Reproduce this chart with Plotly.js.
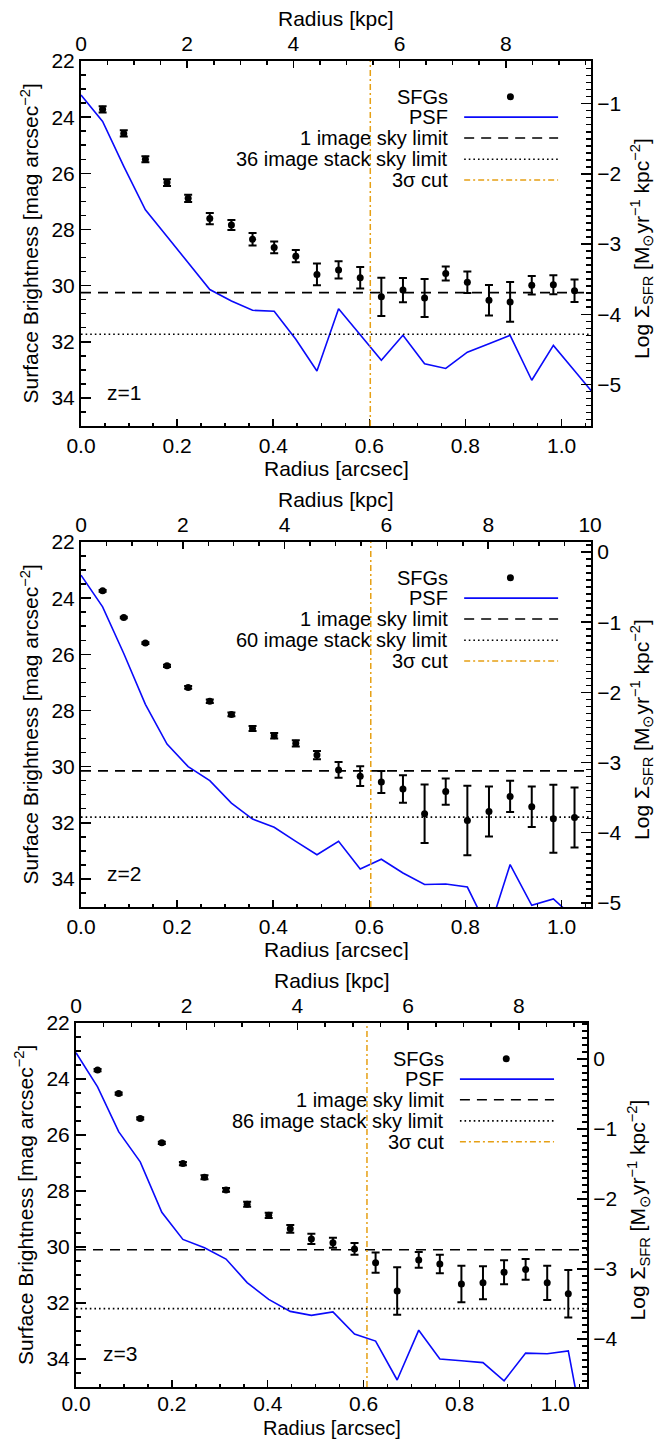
<!DOCTYPE html>
<html>
<head>
<meta charset="utf-8">
<script src="https://cdn.plot.ly/plotly-3.0.1.min.js"></script>
<style>
  body { margin: 0; background: #fff; }
  .panel { width: 671px; }
</style>
</head>
<body>
<div id="p1" class="panel" style="height:480px"></div>
<div id="p2" class="panel" style="height:480px"></div>
<div id="p3" class="panel" style="height:479px"></div>
<script>
// ---------- data ----------
const radius = [0.045, 0.089, 0.134, 0.179, 0.223, 0.268, 0.313, 0.357, 0.402, 0.447, 0.491, 0.536,
                0.581, 0.625, 0.670, 0.715, 0.759, 0.804, 0.849, 0.893, 0.938, 0.983, 1.027];
const psfRadius = [0, 0.045, 0.089, 0.134, 0.179, 0.223, 0.268, 0.313, 0.357, 0.402, 0.447, 0.491, 0.536,
                   0.581, 0.625, 0.670, 0.715, 0.759, 0.804, 0.849, 0.893, 0.938, 0.983, 1.027, 1.072];

// z = 1
const sfgZ1 = [23.72, 24.58, 25.50, 26.33, 26.89, 27.61, 27.84, 28.35, 28.64, 28.95, 29.60, 29.44,
               29.72, 30.40, 30.16, 30.44, 29.57, 29.88, 30.52, 30.58, 29.99, 29.97, 30.18];
const sfgErrZ1 = [0.11, 0.11, 0.11, 0.12, 0.13, 0.20, 0.18, 0.22, 0.21, 0.22, 0.39, 0.31,
                  0.38, 0.68, 0.43, 0.68, 0.25, 0.38, 0.54, 0.71, 0.33, 0.34, 0.40];
const psfZ1 = [23.21, 24.15, 25.75, 27.30, 28.25, 29.17, 30.14, 30.55, 30.88, 30.91, 31.91, 33.04,
               30.82, 31.75, 32.66, 31.77, 32.78, 32.95, 32.37, 32.07, 31.77, 33.37, 32.13, 33.03, 33.95];

// z = 2
const sfgZ2 = [23.74, 24.69, 25.60, 26.41, 27.18, 27.67, 28.14, 28.64, 28.90, 29.17, 29.59, 30.12,
               30.34, 30.55, 30.80, 31.68, 30.89, 31.92, 31.60, 31.06, 31.43, 31.86, 31.81];
const sfgErrZ2 = [0.03, 0.03, 0.03, 0.04, 0.05, 0.06, 0.07, 0.09, 0.10, 0.11, 0.15, 0.28,
                  0.35, 0.39, 0.49, 1.04, 0.47, 1.24, 0.89, 0.56, 0.72, 1.21, 1.07];
const psfZ2 = [23.18, 24.31, 25.97, 27.78, 29.20, 30.00, 30.50, 31.30, 31.87, 32.16, 32.66, 33.14,
               32.66, 33.65, 33.30, 33.79, 34.20, 34.18, 34.29, 35.85, 33.49, 34.94, 34.71, 35.40, null];

// z = 3
const sfgZ3 = [23.68, 24.52, 25.41, 26.28, 27.02, 27.51, 27.96, 28.47, 28.87, 29.35, 29.71, 29.85,
               30.07, 30.56, 31.57, 30.46, 30.61, 31.32, 31.28, 30.90, 30.80, 31.28, 31.67];
const sfgErrZ3 = [0.04, 0.04, 0.04, 0.04, 0.06, 0.07, 0.07, 0.09, 0.09, 0.14, 0.18, 0.18,
                  0.21, 0.36, 0.85, 0.28, 0.33, 0.65, 0.59, 0.43, 0.37, 0.61, 0.85];
const psfZ3 = [23.06, 24.28, 25.88, 26.96, 28.76, 29.73, 30.03, 30.43, 31.27, 31.87, 32.30, 32.44,
               32.32, 33.11, 33.36, 34.75, 32.97, 34.00, 34.06, 34.13, 34.78, 33.79, 33.81, 33.71, 37.80];

const redshiftLabels = ['z=1', 'z=2', 'z=3'];
const stackCounts = [36, 60, 86];
const skyLimitSingle = [30.25, 30.15, 30.10];   // 1 image sky limit [mag arcsec^-2]
const skyLimitStack = [31.73, 31.80, 32.20];    // N image stack sky limit
const cut3Sigma = [0.602, 0.603, 0.607];        // arcsec
const kpcPerArcsec = [9.05, 9.44, 8.66];
const magAtLogSigmaZero = [21.02, 22.355, 23.29]; // log Σ_SFR = (m0 - mag)/2.5
const radiusMax = [1.0613, 1.0613, 1.066];

const sfgSets = [sfgZ1, sfgZ2, sfgZ3];
const errSets = [sfgErrZ1, sfgErrZ2, sfgErrZ3];
const psfSets = [psfZ1, psfZ2, psfZ3];

// ---------- styling ----------
const FONT = 'Liberation Sans, Arial, Helvetica, sans-serif';
const FS = 21;
const LEG_FS = 20;
const BLUE = 'rgb(10,10,250)';
const ORANGE = 'rgb(230,160,20)';
const panels = [
  {id: 'p1', h: 480, m: {l: 81, r: 80, t: 61, b: 54}, bottomTitleShift: -42, bottomTitleSize: 21, xStandoff: 0},
  {id: 'p2', h: 480, m: {l: 81, r: 80, t: 62, b: 53}, bottomTitleShift: -42, bottomTitleSize: 21, xStandoff: 0},
  {id: 'p3', h: 479, m: {l: 76, r: 84, t: 63, b: 52}, bottomTitleShift: -41, bottomTitleSize: 20, xStandoff: -3}
];

function axisBase(extra) {
  return Object.assign({
    ticks: 'inside', tickcolor: 'black', tickwidth: 1.5,
    showline: true, linecolor: 'black', linewidth: 2,
    showgrid: false, zeroline: false, tickmode: 'linear',
    tickfont: {family: FONT, size: FS, color: 'black'},
    fixedrange: true
  }, extra);
}

panels.forEach((p, i) => {
  const sfg = sfgSets[i], err = errSets[i], psf = psfSets[i];
  const m0 = magAtLogSigmaZero[i];
  const xmax = radiusMax[i];

  const traces = [
    {x: psfRadius, y: psf, type: 'scatter', mode: 'lines', xaxis: 'x', yaxis: 'y',
     line: {color: BLUE, width: 1.6}, hoverinfo: 'skip', connectgaps: false},
    {x: radius, y: sfg, type: 'scatter', mode: 'markers', xaxis: 'x', yaxis: 'y',
     marker: {color: 'black', size: 7},
     error_y: {type: 'data', array: err, visible: true, color: 'black', thickness: 2, width: 4},
     cliponaxis: true, hoverinfo: 'skip'},
    // same SFG points expressed on the secondary (kpc, log Σ_SFR) axes, invisible: keeps the axes alive
    {x: radius.map(r => r * kpcPerArcsec[i]), y: sfg.map(v => (m0 - v) / 2.5),
     type: 'scatter', mode: 'markers', xaxis: 'x2', yaxis: 'y2',
     marker: {opacity: 0, size: 1}, hoverinfo: 'skip'}
  ];

  const L = {x0: 0.7513, x1: 0.9355, tx: 0.7237, dot: 0.842,
             rows: [0.902, 0.846, 0.789, 0.731, 0.674]};

  const shapes = [
    {type: 'line', xref: 'paper', yref: 'y', x0: 0, x1: 1, y0: skyLimitSingle[i], y1: skyLimitSingle[i],
     line: {color: 'black', width: 1.6, dash: '10px,7px'}},
    {type: 'line', xref: 'paper', yref: 'y', x0: 0, x1: 1, y0: skyLimitStack[i], y1: skyLimitStack[i],
     line: {color: 'black', width: 1.6, dash: '1.6px,3px'}},
    {type: 'line', xref: 'x', yref: 'paper', x0: cut3Sigma[i], x1: cut3Sigma[i], y0: 0, y1: 1,
     line: {color: ORANGE, width: 1.5, dash: '6px,3px,2px,3px'}},
    // legend samples
    {type: 'circle', xref: 'paper', yref: 'paper', xsizemode: 'pixel', ysizemode: 'pixel',
     xanchor: L.dot, yanchor: L.rows[0], x0: -3.5, x1: 3.5, y0: -3.5, y1: 3.5,
     fillcolor: 'black', line: {width: 0}},
    {type: 'line', xref: 'paper', yref: 'paper', x0: L.x0, x1: L.x1, y0: L.rows[1], y1: L.rows[1],
     line: {color: BLUE, width: 1.8}},
    {type: 'line', xref: 'paper', yref: 'paper', x0: L.x0, x1: L.x1, y0: L.rows[2], y1: L.rows[2],
     line: {color: 'black', width: 1.6, dash: '10px,7px'}},
    {type: 'line', xref: 'paper', yref: 'paper', x0: L.x0, x1: L.x1, y0: L.rows[3], y1: L.rows[3],
     line: {color: 'black', width: 1.6, dash: '1.6px,3px'}},
    {type: 'line', xref: 'paper', yref: 'paper', x0: L.x0, x1: L.x1, y0: L.rows[4], y1: L.rows[4],
     line: {color: ORANGE, width: 1.5, dash: '6px,3px,2px,3px'}}
  ];

  const txtFont = {family: FONT, size: FS, color: 'black'};
  const legFont = {family: FONT, size: LEG_FS, color: 'black'};
  const legendTexts = ['SFGs', 'PSF', '1 image sky limit',
                       stackCounts[i] + ' image stack sky limit', '3σ cut'];
  const ann = legendTexts.map((t, k) => ({
    text: t, xref: 'paper', yref: 'paper', x: L.tx, y: L.rows[k],
    xanchor: 'right', yanchor: 'middle', showarrow: false, font: legFont
  }));
  ann.push({text: redshiftLabels[i], xref: 'paper', yref: 'paper', x: 0.048, y: 0.093,
            xanchor: 'left', yanchor: 'middle', showarrow: false, font: txtFont});
  // axis titles
  ann.push({text: 'Radius [arcsec]', xref: 'paper', yref: 'paper', x: 0.5, y: 0, yshift: p.bottomTitleShift,
            xanchor: 'center', yanchor: 'middle', showarrow: false,
            font: {family: FONT, size: p.bottomTitleSize, color: 'black'}});
  ann.push({text: 'Radius [kpc]', xref: 'paper', yref: 'paper', x: 0.5, y: 1, yshift: 43,
            xanchor: 'center', yanchor: 'middle', showarrow: false, font: txtFont});
  ann.push({text: 'Surface Brightness [mag arcsec<sup>−2</sup>]', xref: 'paper', yref: 'paper',
            x: 0, xshift: -52, y: 0.5, textangle: -90, xanchor: 'center', yanchor: 'middle',
            showarrow: false, font: txtFont});
  ann.push({text: 'Log Σ<sub>SFR</sub> [M<sub>⊙</sub>yr<sup>−1</sup> kpc<sup>−2</sup>]', xref: 'paper', yref: 'paper',
            x: 1, xshift: 51, y: 0.485, textangle: -90, xanchor: 'center', yanchor: 'middle',
            showarrow: false, font: txtFont});

  const layout = {
    width: 671, height: p.h,
    margin: Object.assign({pad: 0}, p.m),
    paper_bgcolor: 'white', plot_bgcolor: 'white',
    showlegend: false,
    font: {family: FONT, size: FS, color: 'black'},
    xaxis: axisBase({range: [0, xmax], tick0: 0, dtick: 0.2, tickformat: '.1f', ticklen: 7,
      anchor: 'y', side: 'bottom', ticklabelstandoff: p.xStandoff,
      minor: {ticks: 'inside', dtick: 0.05, tick0: 0, ticklen: 3.5, tickwidth: 1.5, tickcolor: 'black', showgrid: false}}),
    xaxis2: axisBase({range: [0, xmax * kpcPerArcsec[i]], tick0: 0, dtick: 2, ticklen: 7,
      overlaying: 'x', side: 'top', anchor: 'y2',
      minor: {ticks: 'inside', dtick: 0.5, tick0: 0, ticklen: 3.5, tickwidth: 1.5, tickcolor: 'black', showgrid: false}}),
    yaxis: axisBase({range: [35, 22], tick0: 0, dtick: 2, ticklen: 10, anchor: 'x', side: 'left',
      minor: {ticks: 'inside', dtick: 0.5, tick0: 0, ticklen: 5, tickwidth: 1.5, tickcolor: 'black', showgrid: false}}),
    yaxis2: axisBase({range: [(m0 - 35) / 2.5, (m0 - 22) / 2.5], tick0: 0, dtick: 1, ticklen: 10,
      overlaying: 'y', side: 'right', anchor: 'x2',
      minor: {ticks: 'inside', dtick: 0.1, tick0: 0, ticklen: 5, tickwidth: 1.5, tickcolor: 'black', showgrid: false}}),
    shapes: shapes,
    annotations: ann
  };

  Plotly.newPlot(p.id, traces, layout, {staticPlot: true, displayModeBar: false});
});
</script>
</body>
</html>
